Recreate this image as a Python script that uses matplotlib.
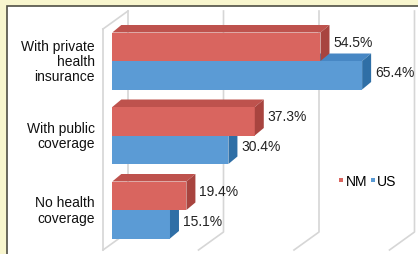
import matplotlib
matplotlib.use("Agg")
import matplotlib.pyplot as plt
from matplotlib.patches import Polygon, Rectangle
from matplotlib.lines import Line2D

categories = ["With private\nhealth\ninsurance", "With public\ncoverage", "No health\ncoverage"]
nm_values = [54.5, 37.3, 19.4]
us_values = [65.4, 30.4, 15.1]
series_names = ["NM", "US"]
grid_values = [25, 50, 75]

# styling
W, H = 418, 255
PXX = 3.82      # pixels per percent
PXY = 74.5      # pixels per category step
X0 = 112.3      # pixel position of 0%
Y0 = 62.0       # pixel position of first category
FONT = ["Liberation Sans Narrow", "Liberation Sans", "DejaVu Sans"]
FS = 10

nm_front, nm_top, nm_side = "#D9655F", "#BE524D", "#A8443F"
us_front, us_top, us_side = "#5B9BD5", "#4787C4", "#2F6FA6"
grid_c = "#D6D6D6"

fig = plt.figure(figsize=(W / 100, H / 100), dpi=100)
fig.patch.set_facecolor("#F8F6CE")
fig.patches.append(Rectangle((6.5 / W, -0.05), 1.2, 1 - 7 / H + 0.05, transform=fig.transFigure,
                             facecolor="white", edgecolor="#4F4F45", linewidth=1.2, zorder=-5))

ax = fig.add_axes([0, 0, 1, 1])
ax.set_facecolor("none")
ax.set_zorder(2)
ax.set_xlim(-X0 / PXX, (W - X0) / PXX)
ax.set_ylim((H - Y0) / PXY, -Y0 / PXY)
ax.axis("off")

px = lambda p: p / PXX
py = lambda p: p / PXY

# 3D box geometry (data units)
wall_front_x = px(-9.3)
depth_x = px(25)
depth_y = py(18)
back_top = py(12 - Y0)
back_bot = py(233 - Y0)

# left wall
ax.plot([wall_front_x, wall_front_x], [back_top + depth_y, back_bot + depth_y], color=grid_c, lw=1.2, zorder=1)
ax.plot([wall_front_x, wall_front_x + depth_x], [back_top + depth_y, back_top], color=grid_c, lw=1.2, zorder=1)
ax.plot([wall_front_x + depth_x] * 2, [back_top, back_bot], color=grid_c, lw=1.2, zorder=1)
ax.plot([wall_front_x + depth_x, wall_front_x], [back_bot, back_bot + depth_y], color=grid_c, lw=1.2, zorder=1)

# gridlines on back wall + floor
for g in grid_values:
    gx = wall_front_x + depth_x + g
    ax.plot([gx, gx, gx - depth_x], [back_top, back_bot, back_bot + depth_y], color=grid_c, lw=1.2, zorder=1)

# bars with 3D faces
h = 28.5 / PXY
bdx = px(9)
bdy = py(7.5)

def bar3d(y_top, w, front, top, side, z):
    ax.barh(y_top, w, height=h, left=0, align="edge", color=front, zorder=z, linewidth=0)
    y_bot = y_top + h
    ax.add_patch(Polygon([(0, y_top), (w, y_top), (w + bdx, y_top - bdy), (bdx, y_top - bdy)],
                         closed=True, facecolor=top, edgecolor="none", zorder=z))
    ax.add_patch(Polygon([(w, y_top), (w, y_bot), (w + bdx, y_bot - bdy), (w + bdx, y_top - bdy)],
                         closed=True, facecolor=side, edgecolor="none", zorder=z))

for i, (cat, nmv, usv) in enumerate(zip(categories, nm_values, us_values)):
    z = 2 + i * 2
    bar3d(i, usv, us_front, us_top, us_side, z)
    bar3d(i - h, nmv, nm_front, nm_top, nm_side, z + 1)
    ax.text(nmv + bdx + px(4.0), i - h / 2 - py(5), f"{nmv}%", ha="left", va="center",
            fontsize=FS, family=FONT, color="#222222", zorder=10)
    ax.text(usv + bdx + px(4.0), i + h / 2 - py(3.5), f"{usv}%", ha="left", va="center",
            fontsize=FS, family=FONT, color="#222222", zorder=10)
    ax.text(px(95 - X0), i, cat, ha="right", va="center", fontsize=FS, family=FONT,
            color="#111111", linespacing=1.12, zorder=10)

handles = [Line2D([], [], marker="s", linestyle="none", markersize=3.5, color=nm_front, markeredgewidth=0),
           Line2D([], [], marker="s", linestyle="none", markersize=3.5, color=us_front, markeredgewidth=0)]
leg = fig.legend(handles, series_names, loc="center", bbox_to_anchor=(367 / W, 1 - 182 / H), ncol=2,
                 frameon=False, handlelength=0.5, handletextpad=0.05, columnspacing=0.15,
                 borderpad=0, prop={"family": FONT, "size": FS})

fig.savefig("out.png", dpi=100, facecolor=fig.get_facecolor())
